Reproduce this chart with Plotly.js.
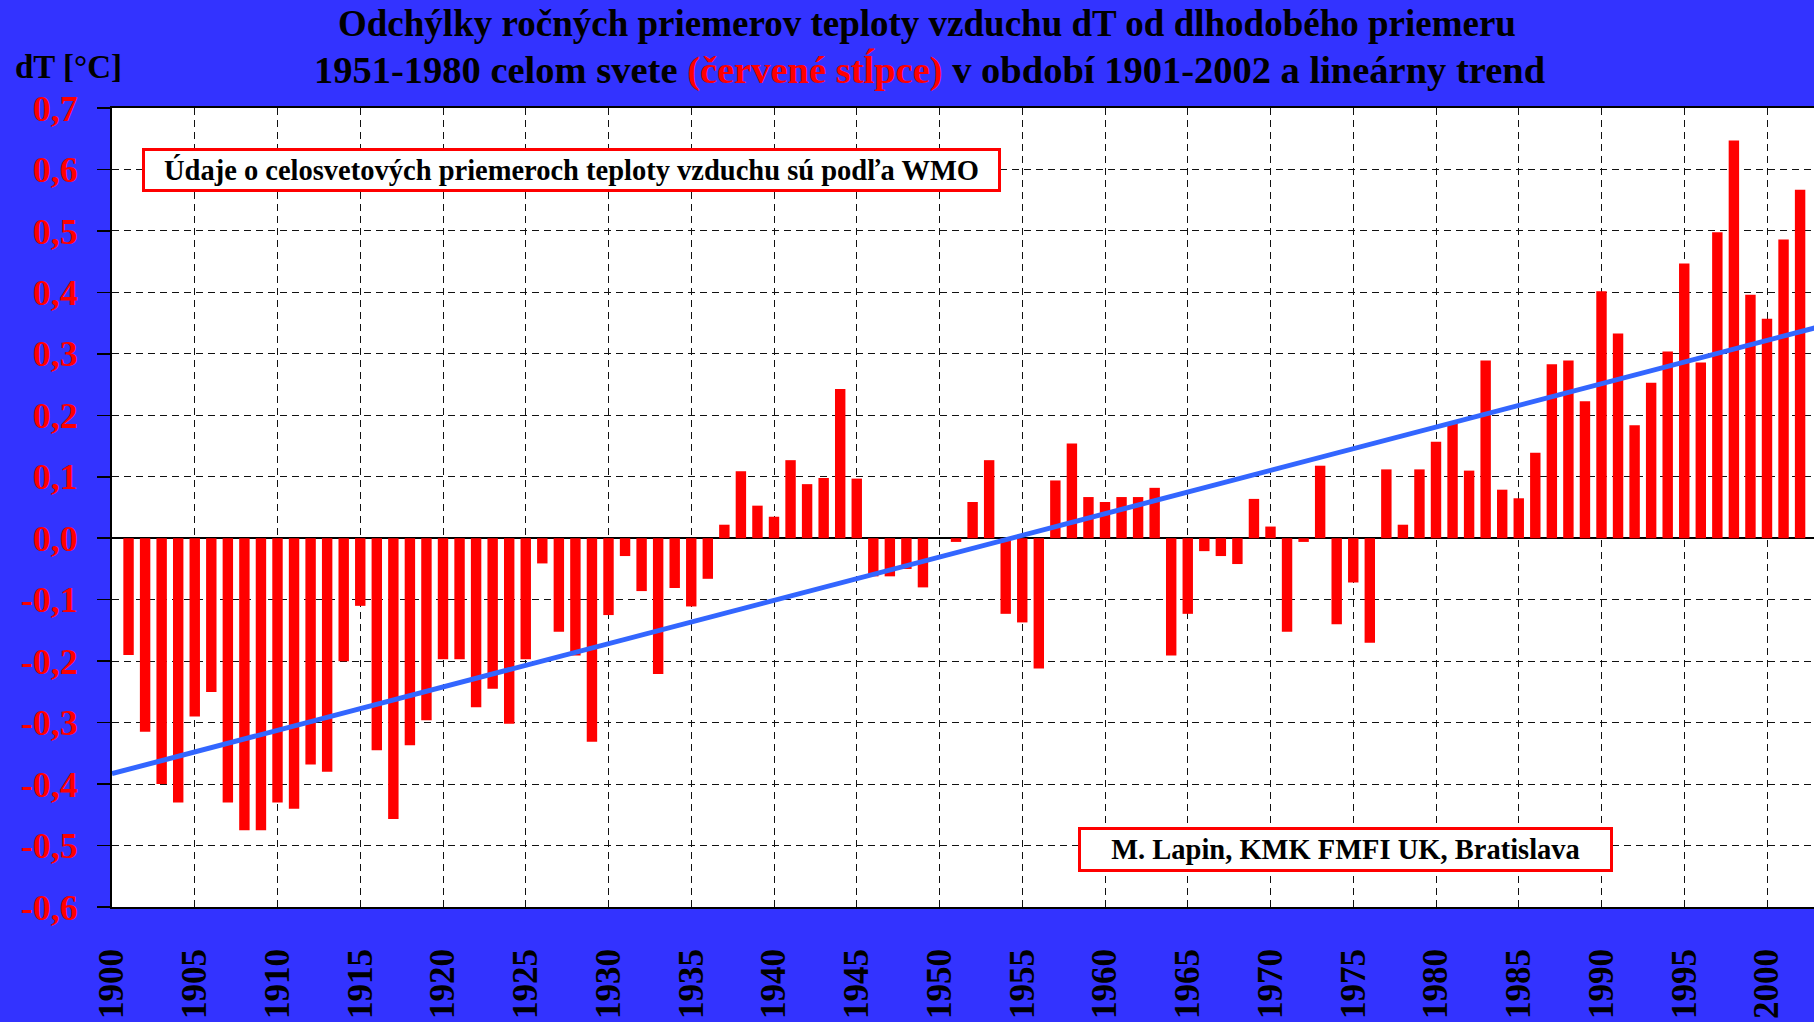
<!DOCTYPE html>
<html>
<head>
<meta charset="utf-8">
<script src="https://cdn.plot.ly/plotly-3.0.1.min.js"></script>
<style>html,body{margin:0;padding:0;background:#3333ff;}#chart{width:1814px;height:1022px;}</style>
</head>
<body>
<div id="chart"></div>
<script>
// ---- data ----
const years = [1901,1902,1903,1904,1905,1906,1907,1908,1909,1910,
1911,1912,1913,1914,1915,1916,1917,1918,1919,1920,
1921,1922,1923,1924,1925,1926,1927,1928,1929,1930,
1931,1932,1933,1934,1935,1936,1937,1938,1939,1940,
1941,1942,1943,1944,1945,1946,1947,1948,1949,1950,
1951,1952,1953,1954,1955,1956,1957,1958,1959,1960,
1961,1962,1963,1964,1965,1966,1967,1968,1969,1970,
1971,1972,1973,1974,1975,1976,1977,1978,1979,1980,
1981,1982,1983,1984,1985,1986,1987,1988,1989,1990,
1991,1992,1993,1994,1995,1996,1997,1998,1999,2000,
2001,2002];
const dT = [-0.19,-0.315,-0.40,-0.43,-0.29,-0.25,-0.43,-0.475,-0.475,-0.43,
-0.44,-0.368,-0.38,-0.20,-0.11,-0.345,-0.457,-0.337,-0.296,-0.197,
-0.197,-0.275,-0.245,-0.302,-0.197,-0.041,-0.152,-0.191,-0.331,-0.125,
-0.029,-0.086,-0.221,-0.081,-0.111,-0.066,0.022,0.109,0.053,0.035,
0.127,0.088,0.098,0.243,0.097,-0.062,-0.062,-0.05,-0.08,0.0,
-0.006,0.059,0.127,-0.123,-0.137,-0.212,0.094,0.154,0.067,0.059,
0.067,0.067,0.082,-0.191,-0.123,-0.021,-0.029,-0.042,0.064,0.019,
-0.152,-0.006,0.118,-0.14,-0.072,-0.17,0.112,0.022,0.112,0.157,
0.187,0.11,0.289,0.079,0.065,0.139,0.283,0.289,0.223,0.402,
0.333,0.184,0.253,0.304,0.447,0.286,0.498,0.647,0.396,0.357,
0.486,0.567];
const trendYears = [1900, 2003];
const trendValues = [-0.383, 0.343];
const xTickVals = [1900,1905,1910,1915,1920,1925,1930,1935,1940,1945,1950,1955,1960,1965,1970,1975,1980,1985,1990,1995,2000];
const xTickText = ['1900','1905','1910','1915','1920','1925','1930','1935','1940','1945','1950','1955','1960','1965','1970','1975','1980','1985','1990','1995','2000'];
const yTickVals = [-0.6,-0.5,-0.4,-0.3,-0.2,-0.1,0,0.1,0.2,0.3,0.4,0.5,0.6,0.7];
const yTickText = ['-0,6','-0,5','-0,4','-0,3','-0,2','-0,1','0,0','0,1','0,2','0,3','0,4','0,5','0,6','0,7'];
const titleLine1 = 'Odchýlky ročných priemerov teploty vzduchu dT od dlhodobého priemeru';
const titleLine2a = '1951-1980 celom svete ';
const titleLine2red = '(červené stĺpce)';
const titleLine2b = ' v období 1901-2002 a lineárny trend';
const yUnitLabel = 'dT [°C]';
const noteSource = 'Údaje o celosvetových priemeroch teploty vzduchu sú podľa WMO';
const noteAuthor = 'M. Lapin, KMK FMFI UK, Bratislava';

// ---- chart ----
const SERIF = 'Liberation Serif, Times New Roman, serif';
const traces = [
  {type:'bar', x:years, y:dT, width:0.63, marker:{color:'#ff0000', line:{width:0}}, hoverinfo:'x+y'},
  {type:'scatter', mode:'lines', x:trendYears, y:trendValues, line:{color:'#3366ff', width:5}, hoverinfo:'skip'}
];
// plot area in pixels: x 112..1814, y 108..907
const PL=112, PR=1814, PT=108, PB=907;
const px = v => (v-PL)/(PR-PL);
const py = v => (PB-v)/(PB-PT);
const layout = {
  width:1814, height:1022,
  margin:{l:112, r:0, t:108, b:115, pad:0},
  paper_bgcolor:'#3333ff', plot_bgcolor:'#ffffff',
  showlegend:false,
  font:{family:SERIF, color:'#000'},
  xaxis:{range:[1900,2002.84], tickvals:xTickVals, ticktext:xTickText, tickangle:-90,
    tickfont:{family:SERIF, size:35, color:'#000', weight:'bold'},
    ticks:'', ticklabelstandoff:26,
    showgrid:true, gridcolor:'#111', gridwidth:1, griddash:'7px,5px',
    showline:true, linecolor:'#000', linewidth:2, mirror:true, zeroline:false, fixedrange:true},
  yaxis:{range:[-0.6,0.7], tickvals:yTickVals, ticktext:yTickText,
    tickfont:{family:SERIF, size:36, color:'#ff0000', weight:'bold'},
    ticks:'outside', ticklen:13, tickwidth:1.5, tickcolor:'#000', ticklabelstandoff:12,
    showgrid:true, gridcolor:'#111', gridwidth:1, griddash:'7px,5px',
    zeroline:true, zerolinecolor:'#000', zerolinewidth:2,
    showline:true, linecolor:'#000', linewidth:2, mirror:true, fixedrange:true},
  annotations:[
    {xref:'paper', yref:'paper', x:px(927), y:py(23.5), xanchor:'center', yanchor:'middle', showarrow:false,
     text:'<b>'+titleLine1+'</b>', font:{family:SERIF, size:37, color:'#000'}},
    {xref:'paper', yref:'paper', x:px(929), y:py(69.5), xanchor:'center', yanchor:'middle', showarrow:false,
     text:'<b>'+titleLine2a+'<span style="color:#ff0000">'+titleLine2red+'</span>'+titleLine2b+'</b>', font:{family:SERIF, size:38.5, color:'#000'}},
    {xref:'paper', yref:'paper', x:px(13), y:py(67), xanchor:'left', yanchor:'middle', showarrow:false,
     text:'<b>'+yUnitLabel+'</b>', font:{family:SERIF, size:33, color:'#000'}},
    {xref:'paper', yref:'paper', x:px(571.5), y:py(170), xanchor:'center', yanchor:'middle', showarrow:false,
     text:'<b>'+noteSource+'</b>', font:{family:SERIF, size:28.5, color:'#000'},
     bgcolor:'#ffffff', bordercolor:'#ff0000', borderwidth:3, borderpad:0, width:853, height:38},
    {xref:'paper', yref:'paper', x:px(1345.5), y:py(849.5), xanchor:'center', yanchor:'middle', showarrow:false,
     text:'<b>'+noteAuthor+'</b>', font:{family:SERIF, size:28.5, color:'#000'},
     bgcolor:'#ffffff', bordercolor:'#ff0000', borderwidth:3, borderpad:0, width:529, height:39}
  ]
};
Plotly.newPlot('chart', traces, layout, {displayModeBar:false, staticPlot:true});
</script>
</body>
</html>
